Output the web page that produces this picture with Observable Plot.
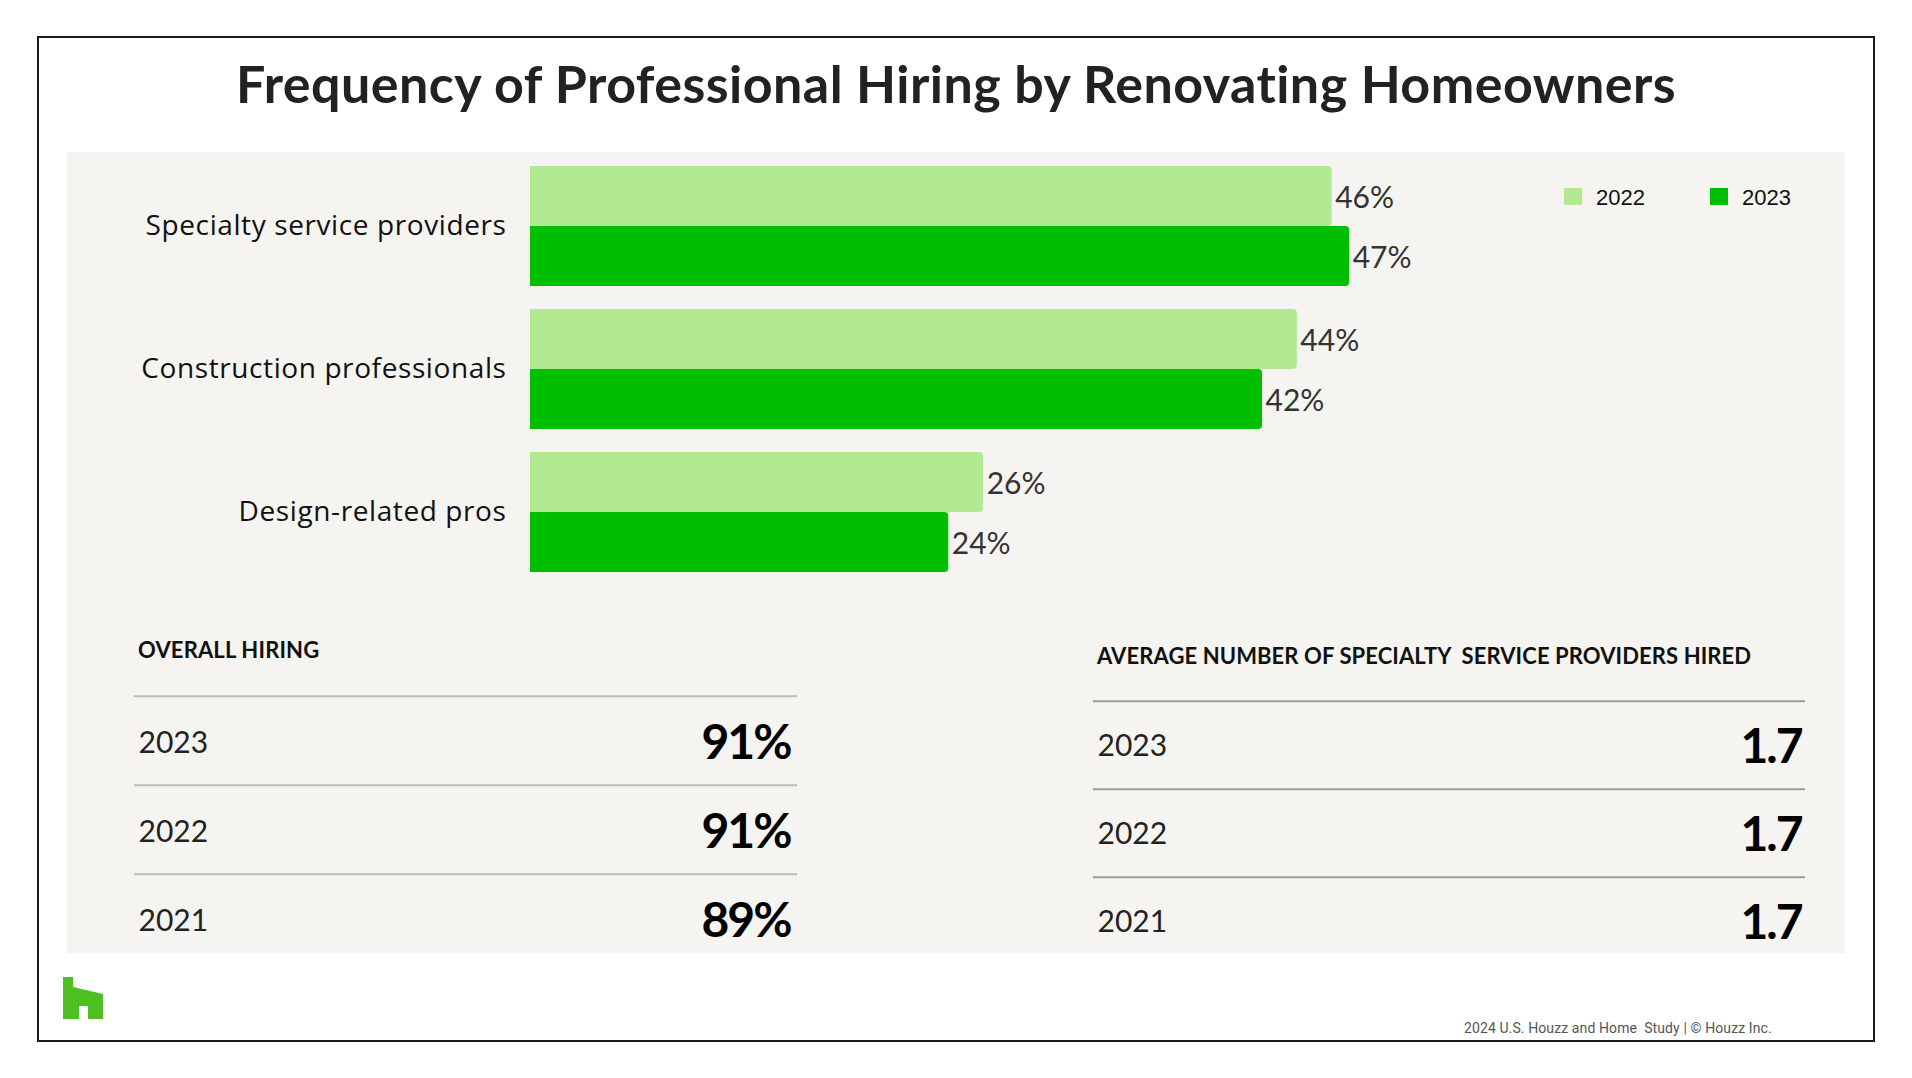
<!DOCTYPE html>
<html>
<head>
<meta charset="utf-8">
<script src="https://cdn.jsdelivr.net/npm/d3@7"></script>
<script src="https://cdn.jsdelivr.net/npm/@observablehq/plot@0.6"></script>
<style>
  html, body { margin: 0; padding: 0; background: #fff; }
  body { width: 1912px; height: 1078px; position: relative; overflow: hidden; font-family: Lato, "Open Sans", sans-serif; }
  .abs { position: absolute; white-space: pre; }
  #frame { position: absolute; left: 37px; top: 36px; width: 1838px; height: 1006px; border: 2px solid #1a1a1a; box-sizing: border-box; }
  #panel { position: absolute; left: 67px; top: 152px; width: 1778px; height: 801px; background: #f5f4f0; }
  .plotbox { position: absolute; }
  .plotbox svg { max-width: none; overflow: visible; }
</style>
</head>
<body>
<div id="frame"></div>
<div id="panel"></div>
<div class="plotbox" id="bars" style="left:67px;top:152px;"></div>
<div class="plotbox" id="tableLeft" style="left:67px;top:600px;"></div>
<div class="plotbox" id="tableRight" style="left:1000px;top:600px;"></div>
<svg class="abs" style="left:0;top:0;" width="120" height="1078" viewBox="0 0 120 1078">
  <polygon points="63,977 73,977 73,987 103,994 103,1019 88,1019 88,1006 79,1006 79,1019 63,1019" fill="#4dbf23"/>
</svg>
<script>
// ---------- data ----------
const chartTitle = "Frequency of Professional Hiring by Renovating Homeowners";
const categories = ["Specialty service providers", "Construction professionals", "Design-related pros"];
const years = ["2022", "2023"];
const share2022 = [46, 44, 26];
const share2023 = [47, 42, 24];
const yearColors = ["#b2ea94", "#00bf00"];

const tableYears = ["2023", "2022", "2021"];
const overallHiring = [91, 91, 89];
const avgSpecialtyHired = [1.7, 1.7, 1.7];
const overallTitle = "OVERALL HIRING";
const avgTitle = "AVERAGE NUMBER OF SPECIALTY  SERVICE PROVIDERS HIRED";
const footerText = "2024 U.S. Houzz and Home  Study | \u00A9 Houzz Inc.";

// ---------- helpers ----------
const METRICS = {
  Lato: {asc: 0.987, lh: 1.2},
  "Liberation Sans": {asc: 0.905, lh: 1.149},
  Roboto: {asc: 0.928, lh: 1.172}
};
function place(text, {x, baseline, size, family = "Lato", weight = 400, color = "#111", anchor = "start", width = 0, spacing = 0}) {
  const m = METRICS[family];
  const d = document.createElement("div");
  d.className = "abs";
  d.textContent = text;
  d.style.font = `${weight} ${size}px/${m.lh * size}px "${family}"`;
  d.style.letterSpacing = spacing + "px";
  d.style.color = color;
  d.style.top = (baseline - m.asc * size) + "px";
  if (anchor === "middle") { d.style.left = (x - width / 2) + "px"; d.style.width = width + "px"; d.style.textAlign = "center"; }
  else d.style.left = x + "px";
  document.body.appendChild(d);
  return d;
}

// ---------- texts ----------
place(chartTitle, {x: 956, baseline: 103, size: 52, weight: 700, color: "#222", anchor: "middle", width: 1912, spacing: 0.45});
place(overallTitle, {x: 138, baseline: 659, size: 22, weight: 700, color: "#111", spacing: 0.15});
place(avgTitle, {x: 1097, baseline: 665, size: 22, weight: 700, color: "#111", spacing: 0.1});
place(footerText, {x: 1464, baseline: 1033, size: 14, family: "Roboto", color: "#555", spacing: 0.1});

// legend
years.forEach((yr, i) => {
  const x0 = [1564, 1710][i];
  const sw = document.createElement("div");
  sw.className = "abs";
  sw.style.cssText += `left:${x0}px;top:188px;width:18px;height:17px;background:${yearColors[i]};`;
  document.body.appendChild(sw);
  place(yr, {x: x0 + 32, baseline: 205, size: 22, family: "Liberation Sans", color: "#111"});
});

// ---------- bar chart ----------
const bars = categories.flatMap((c, i) => [
  {category: c, year: years[0], value: share2022[i]},
  {category: c, year: years[1], value: share2023[i]}
]);

const barChart = Plot.plot({
  width: 1778,
  height: 440,
  marginLeft: 463,
  marginRight: 95,
  marginTop: 13,
  marginBottom: 20,
  style: {background: "transparent", fontFamily: "Open Sans", fontSize: "28px", letterSpacing: "0.6px", color: "#111", overflow: "visible"},
  facet: {data: bars, y: "category"},
  fy: {domain: categories, axis: "left", label: null, tickSize: 0, tickPadding: 24, paddingInner: 0.164, paddingOuter: 0},
  x: {domain: [0, 70], axis: null},
  y: {type: "band", domain: years, axis: null, padding: 0},
  color: {domain: years, range: yearColors},
  marks: [
    Plot.barX(bars, {x: "value", y: "year", fill: "year", rx2: 4}),
    Plot.text(bars, {x: "value", y: "year", text: d => d.value + "%", dx: 3, dy: 2, textAnchor: "start", fontSize: 30, fontFamily: "Lato", fill: "#333"})
  ]
});
document.getElementById("bars").appendChild(barChart);
// value labels keep normal spacing
barChart.querySelectorAll("g[aria-label='text'] text").forEach(t => t.setAttribute("letter-spacing", "0"));

// ---------- tables ----------
function table(values, fmt, o) {
  const bw = (o.y1 - o.y0) / tableYears.length;
  return Plot.plot({
    width: o.width,
    height: 353,
    marginLeft: o.ml,
    marginRight: o.mr,
    marginTop: 0,
    marginBottom: 0,
    style: {background: "transparent", fontFamily: "Lato", fontSize: "30px", color: "#111", overflow: "visible"},
    y: {type: "band", domain: tableYears, range: [o.y0, o.y1], padding: 0, axis: null},
    marks: [
      Plot.ruleY(tableYears, {y: d => d, dy: -bw / 2, stroke: o.rule, strokeWidth: 2}),
      Plot.text(tableYears, {y: d => d, text: d => d, frameAnchor: "left", textAnchor: "start", dx: 4, dy: o.dyYear, fontSize: 30, fill: "#222"}),
      Plot.text(values, {y: (d, i) => tableYears[i], text: fmt, frameAnchor: "right", textAnchor: "end", dx: o.dxVal, dy: o.dyVal, fontSize: 48, fontWeight: 700, fill: "#000"})
    ]
  });
}
document.getElementById("tableLeft").appendChild(
  table(overallHiring, d => d + "%", {width: 780, ml: 67, mr: 50, y0: 95, y1: 363.5, rule: "#bdbdbd", dyYear: 2.5, dyVal: 3, dxVal: -7})
);
document.getElementById("tableRight").appendChild(
  table(avgSpecialtyHired, d => d.toFixed(1), {width: 845, ml: 93, mr: 40, y0: 100, y1: 365.5, rule: "#9a9a9a", dyYear: 1, dyVal: 2, dxVal: -4})
);
// tighten bold table figures
document.querySelectorAll("#tableLeft svg text, #tableRight svg text").forEach(t => {
  if (t.getAttribute("font-weight") === "700" || (t.parentNode && t.parentNode.getAttribute("font-weight") === "700")) t.setAttribute("letter-spacing", "-2");
});
</script>
</body>
</html>
